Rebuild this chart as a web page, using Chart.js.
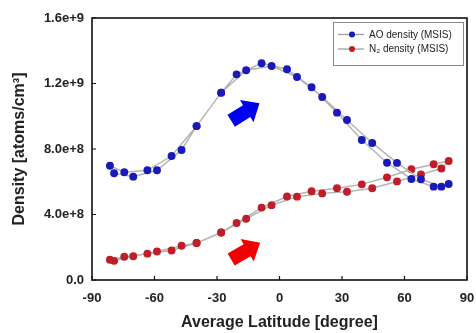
<!DOCTYPE html>
<html>
<head>
<meta charset="utf-8">
<script src="https://cdn.jsdelivr.net/npm/chart.js@4.4.1/dist/chart.umd.min.js"></script>
<style>
  html, body { margin: 0; padding: 0; background: #fff; }
  canvas { display: block; }
</style>
</head>
<body>
<canvas id="chart" width="476" height="333"></canvas>
<script>
// orbit points in flight order: northward pass, then back south
const latitude = [-81.4, -74.5, -63.4, -51.8, -39.8, -28.0, -20.6, -8.6, 3.6, 15.4, 27.6, 39.5, 51.6, 63.3, 74.0, 81.2,
  77.7, 67.9, 56.4, 44.5, 32.4, 20.5, 8.4, -3.8, -16.0, -28.0, -39.8, -47.0, -58.8, -70.2, -79.4];

const aoDensity = [6.98e8, 6.58e8, 6.70e8, 7.57e8, 9.40e8, 1.144e9, 1.256e9, 1.324e9, 1.287e9, 1.177e9, 1.022e9, 8.55e8, 7.16e8, 6.17e8, 5.70e8, 5.86e8,
  5.70e8, 6.15e8, 7.15e8, 8.37e8, 9.77e8, 1.118e9, 1.240e9, 1.307e9, 1.281e9, 1.144e9, 9.40e8, 7.94e8, 6.70e8, 6.31e8, 6.52e8];

const n2Density = [1.24e8, 1.42e8, 1.61e8, 1.80e8, 2.26e8, 2.90e8, 3.48e8, 4.42e8, 5.10e8, 5.42e8, 5.61e8, 5.84e8, 6.27e8, 6.76e8, 7.07e8, 7.27e8,
  6.81e8, 6.45e8, 6.02e8, 5.60e8, 5.39e8, 5.29e8, 5.09e8, 4.57e8, 3.74e8, 2.90e8, 2.26e8, 2.09e8, 1.74e8, 1.45e8, 1.17e8];

const seriesNames = ["AO density (MSIS)", "N\u2082 density (MSIS)"];
const xTicks = [-90, -60, -30, 0, 30, 60, 90];
const yTicks = [0, 4e8, 8e8, 1.2e9, 1.6e9];

// big arrows, given as [latitude, density] from tail to tip
const arrowMarks = [
  { from: [-23.2, 9.73e8], to: [-9.6, 1.079e9], color: "#0000f0" },
  { from: [-23.2, 1.25e8], to: [-9.3, 2.28e8], color: "#f00000" }
];

const FONT = "'Liberation Sans', Arial, sans-serif";

function toXY(values) {
  return latitude.map((lat, i) => ({ x: lat, y: values[i] }));
}

function drawArrow(ctx, x0, y0, x1, y1, color) {
  const len = Math.hypot(x1 - x0, y1 - y0);
  const ux = (x1 - x0) / len, uy = (y1 - y0) / len;
  const nx = -uy, ny = ux;
  const shaft = 7, head = 13, headLen = 15;
  const bx = x1 - ux * headLen, by = y1 - uy * headLen;
  ctx.beginPath();
  ctx.moveTo(x0 + nx * shaft, y0 + ny * shaft);
  ctx.lineTo(bx + nx * shaft, by + ny * shaft);
  ctx.lineTo(bx + nx * head, by + ny * head);
  ctx.lineTo(x1, y1);
  ctx.lineTo(bx - nx * head, by - ny * head);
  ctx.lineTo(bx - nx * shaft, by - ny * shaft);
  ctx.lineTo(x0 - nx * shaft, y0 - ny * shaft);
  ctx.closePath();
  ctx.fillStyle = color;
  ctx.fill();
}

const decor = {
  id: "decor",
  beforeDatasetsDraw(chart) {
    const { ctx, scales: { x, y } } = chart;
    ctx.save();
    arrowMarks.forEach((m) => {
      drawArrow(ctx, x.getPixelForValue(m.from[0]), y.getPixelForValue(m.from[1]),
        x.getPixelForValue(m.to[0]), y.getPixelForValue(m.to[1]), m.color);
    });
    ctx.restore();
  },
  afterDatasetsDraw(chart) {
    const { ctx, chartArea: a, scales: { x, y } } = chart;
    ctx.save();
    // frame
    ctx.strokeStyle = "#111";
    ctx.lineWidth = 1.6;
    ctx.strokeRect(a.left, a.top, a.right - a.left, a.bottom - a.top);
    // inward tick marks
    ctx.lineWidth = 1.2;
    ctx.beginPath();
    x.ticks.forEach((t) => {
      const px = x.getPixelForValue(t.value);
      ctx.moveTo(px, a.bottom);
      ctx.lineTo(px, a.bottom - 4);
    });
    y.ticks.forEach((t) => {
      const py = y.getPixelForValue(t.value);
      ctx.moveTo(a.left, py);
      ctx.lineTo(a.left + 4, py);
    });
    ctx.stroke();

    // legend box in the top right corner
    const bw = 130, bh = 43;
    const bx = a.right - 4 - bw, by = a.top + 4;
    ctx.fillStyle = "#fff";
    ctx.fillRect(bx, by, bw, bh);
    ctx.strokeStyle = "#8a8a8a";
    ctx.lineWidth = 1;
    ctx.strokeRect(bx + 0.5, by + 0.5, bw, bh);
    ctx.font = "10px " + FONT;
    ctx.textBaseline = "middle";
    chart.data.datasets.forEach((ds, i) => {
      const ry = by + 12.5 + i * 14.5;
      ctx.strokeStyle = "#999";
      ctx.lineWidth = 1.2;
      ctx.beginPath();
      ctx.moveTo(bx + 5, ry);
      ctx.lineTo(bx + 31, ry);
      ctx.stroke();
      ctx.fillStyle = ds.pointBackgroundColor;
      ctx.beginPath();
      ctx.arc(bx + 19, ry, 3, 0, Math.PI * 2);
      ctx.fill();
      ctx.fillStyle = "#222";
      ctx.fillText(ds.label, bx + 36, ry + 0.5);
    });
    ctx.restore();
  }
};

new Chart(document.getElementById("chart"), {
  type: "line",
  data: {
    datasets: [
      {
        label: seriesNames[0],
        data: toXY(aoDensity),
        borderColor: "#b4b4b4",
        borderWidth: 1.5,
        pointBackgroundColor: "#1a1ab8",
        pointBorderColor: "#1a1ab8",
        pointRadius: 3.2,
        tension: 0
      },
      {
        label: seriesNames[1],
        data: toXY(n2Density),
        borderColor: "#b4b4b4",
        borderWidth: 1.5,
        pointBackgroundColor: "#c01e28",
        pointBorderColor: "#c01e28",
        pointRadius: 3.2,
        tension: 0
      }
    ]
  },
  options: {
    responsive: false,
    animation: false,
    layout: { padding: { top: 18, right: 9, bottom: 0, left: 0 } },
    plugins: {
      legend: { display: false },
      tooltip: { enabled: false }
    },
    scales: {
      x: {
        type: "linear",
        min: -90,
        max: 90,
        afterBuildTicks: (s) => { s.ticks = xTicks.map((v) => ({ value: v })); },
        grid: { display: false, drawTicks: false, tickLength: 0 },
        border: { display: false },
        ticks: {
          padding: 11,
          color: "#222",
          font: { family: FONT, size: 13, weight: "bold" }
        },
        title: {
          display: true,
          text: "Average Latitude [degree]",
          color: "#222",
          padding: { top: 0, bottom: 1 },
          font: { family: FONT, size: 16, weight: "bold" }
        },
        afterFit: (s) => { s.height = 53; s.paddingLeft = 0; s.paddingRight = 0; }
      },
      y: {
        min: 0,
        max: 1.6e9,
        afterBuildTicks: (s) => { s.ticks = yTicks.map((v) => ({ value: v })); },
        grid: { display: false, drawTicks: false, tickLength: 0 },
        border: { display: false },
        ticks: {
          padding: 8,
          color: "#222",
          font: { family: FONT, size: 13, weight: "bold" },
          callback: (v) => (v === 0 ? "0.0" : Number(v).toExponential(1))
        },
        title: {
          display: true,
          text: "Density [atoms/cm\u00b3]",
          color: "#222",
          padding: { top: 10, bottom: 0 },
          font: { family: FONT, size: 16, weight: "bold" }
        },
        afterFit: (s) => { s.width = 92; s.paddingTop = 0; s.paddingBottom = 0; }
      }
    }
  },
  plugins: [decor]
});
</script>
</body>
</html>
